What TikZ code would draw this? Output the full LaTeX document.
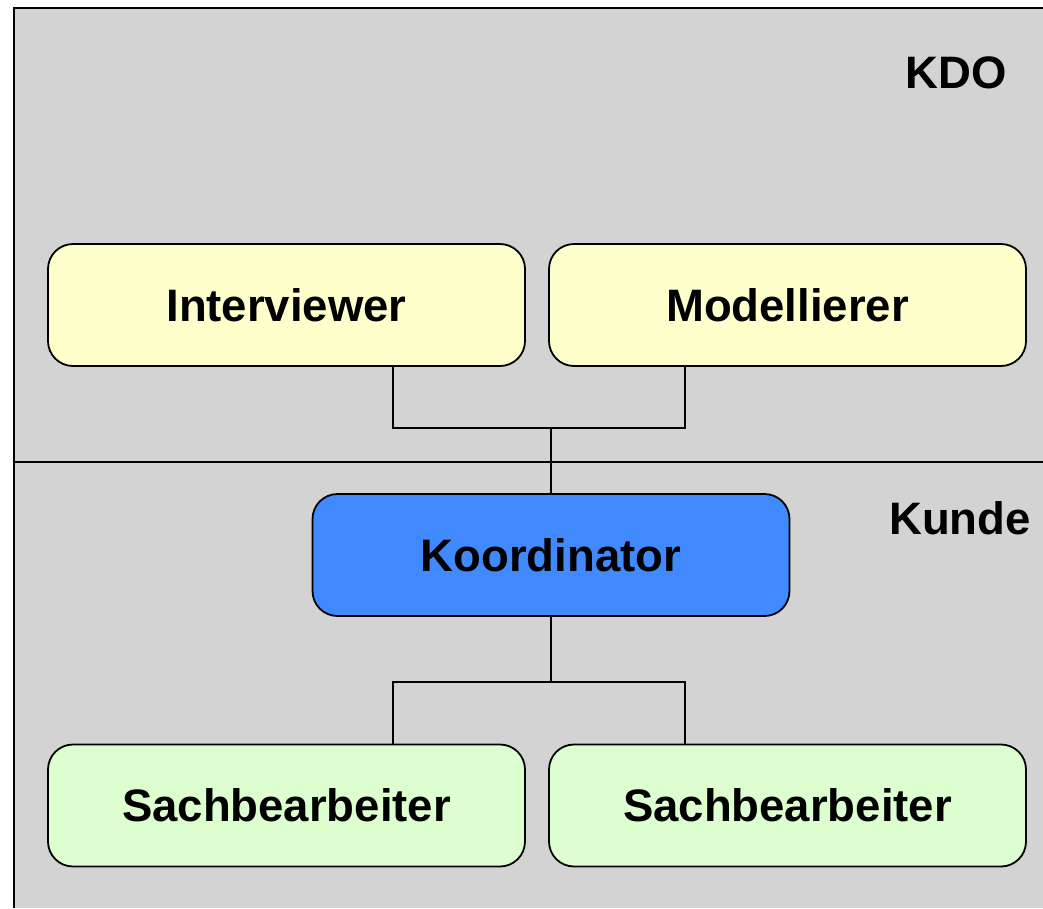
\documentclass[tikz,border=0pt]{standalone}
\usepackage{fontspec}
\setmainfont{Liberation Sans}
\usepackage{tikz}
\definecolor{framegrey}{RGB}{211,211,211}
\definecolor{roleyellow}{RGB}{255,255,204}
\definecolor{roleblue}{RGB}{64,137,255}
\definecolor{rolegreen}{RGB}{221,255,208}

\begin{document}
\begin{tikzpicture}[x=1pt,y=-1pt,
  role/.style={draw, line width=1.8pt, rounded corners=25pt, minimum width=477pt,
    minimum height=122pt, inner sep=0pt, font=\bfseries\fontsize{45.5}{50}\selectfont},
  area/.style={font=\bfseries\fontsize{45.5}{50}\selectfont, inner sep=0pt},
  link/.style={line width=1.8pt}]
  \useasboundingbox (0,0) rectangle (1043,908);
  \fill[framegrey] (14,8) rectangle (1043,908);
  \draw[line width=2.5pt] (1043,8) -- (14,8) -- (14,908);
  \draw[line width=2pt] (14,462) -- (1043,462);
  \node[area] (kdo) at (956,73) {KDO};
  \node[area] (kunde) at (960,518) {Kunde};
  \node[role, fill=roleyellow] (int) at (286.5,305) {Interviewer};
  \node[role, fill=roleyellow] (mod) at (787.5,305) {Modellierer};
  \node[role, fill=roleblue] (koo) at (551,555) {Koordinator};
  \node[role, fill=rolegreen] (sb1) at (286.5,805.5) {Sachbearbeiter};
  \node[role, fill=rolegreen] (sb2) at (787.5,805.5) {Sachbearbeiter};
  \coordinate (tl) at (393,428);
  \coordinate (tr) at (685,428);
  \coordinate (tj) at (551,428);
  \coordinate (bl) at (393,682);
  \coordinate (br) at (685,682);
  \coordinate (bj) at (551,682);
  \draw[link] (int.south -| tl) -- (tl) -- (tr) -- (mod.south -| tr);
  \draw[link] (tj) -- (koo.north);
  \draw[link] (koo.south) -- (bj);
  \draw[link] (sb1.north -| bl) -- (bl) -- (br) -- (sb2.north -| br);
\end{tikzpicture}
\end{document}
